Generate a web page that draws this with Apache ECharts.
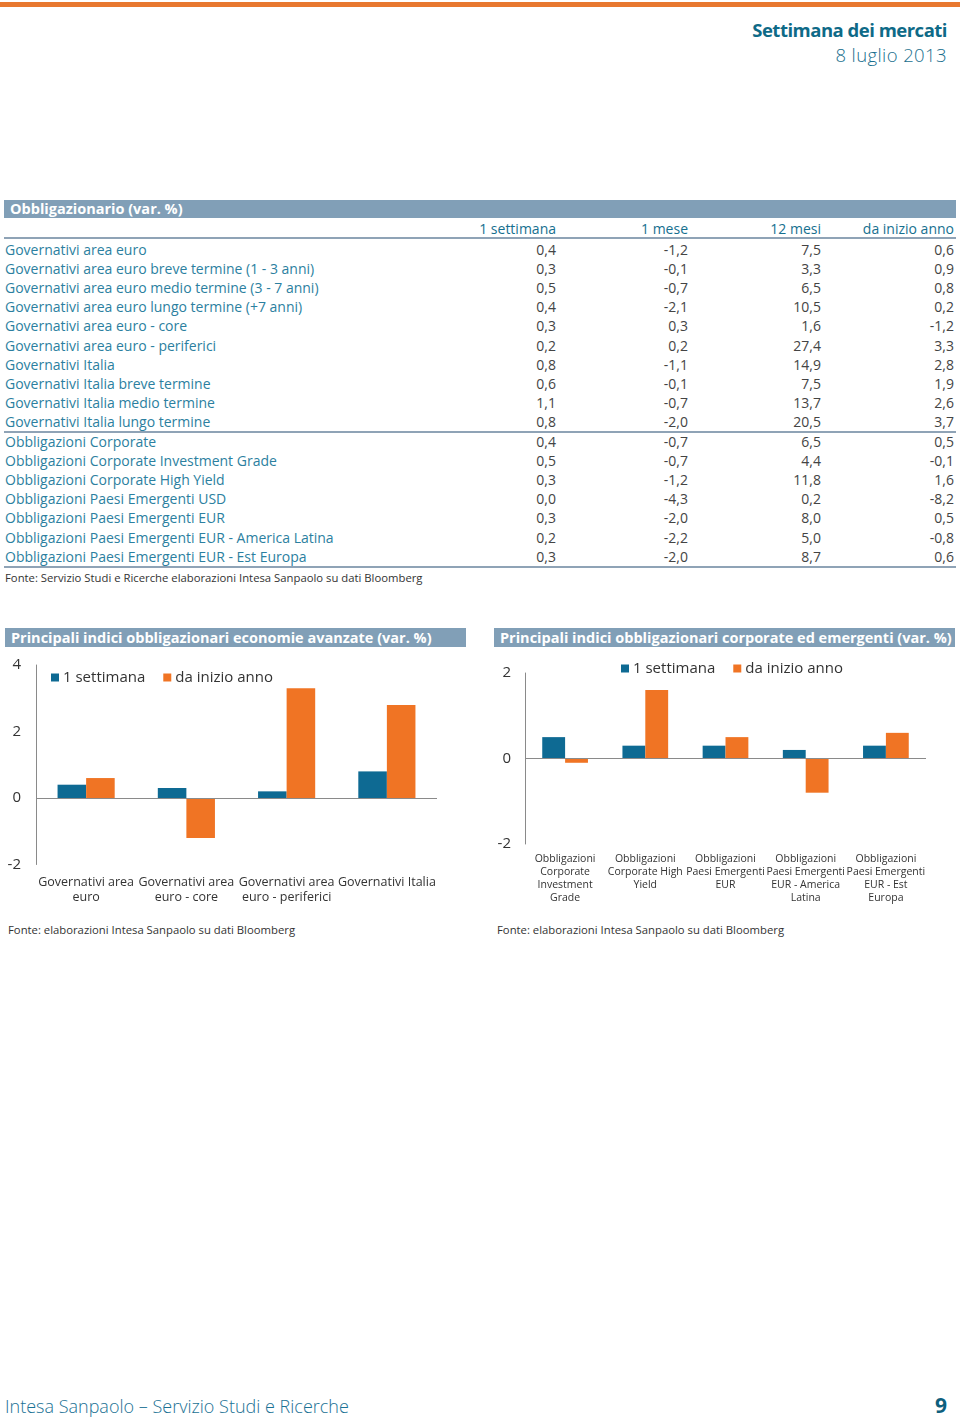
<!DOCTYPE html>
<html>
<head>
<meta charset="utf-8">
<script src="https://cdn.jsdelivr.net/npm/echarts@6/dist/echarts.min.js"></script>
<style>
html,body{margin:0;padding:0;background:#fff;}
body{width:960px;height:1421px;position:relative;overflow:hidden;font-family:"Open Sans",sans-serif;}
.abs{position:absolute;white-space:nowrap;}
.bar{position:absolute;background:#819fb7;color:#fff;font-weight:bold;font-size:14.5px;line-height:19px;padding-left:6px;box-sizing:border-box;}
.row{position:absolute;left:0;width:960px;height:19px;font-size:14px;line-height:19px;}
.lbl{position:absolute;left:5px;color:#2c7fa0;white-space:nowrap;}
.num{position:absolute;color:#444;text-align:right;width:100px;}
.hdr{position:absolute;color:#16708f;text-align:right;width:140px;font-size:14px;line-height:19px;}
.rule{position:absolute;left:4px;width:952px;height:2px;background:#8fa3b6;}
.src{position:absolute;font-size:11.3px;line-height:16px;color:#333;white-space:nowrap;}
</style>
</head>
<body>
<div class="abs" style="left:0;top:2px;width:960px;height:5px;background:#e8782f;"></div>
<div class="abs" style="right:13px;top:20px;font-size:18.5px;line-height:20px;font-weight:bold;color:#0e6a87;letter-spacing:-0.5px;">Settimana dei mercati</div>
<div class="abs" style="right:13px;top:45px;font-size:18.5px;line-height:19px;color:#1a6f8e;letter-spacing:0.4px;font-weight:300;">8 luglio 2013</div>

<div class="bar" style="left:4px;top:200px;width:952px;height:18px;line-height:18px;">Obbligazionario (var. %)</div>
<div id="table"></div>
<div class="src" style="left:5px;top:570px;">Fonte: Servizio Studi e Ricerche elaborazioni Intesa Sanpaolo su dati Bloomberg</div>

<div class="bar" style="left:5px;top:628px;width:461px;">Principali indici obbligazionari economie avanzate (var. %)</div>
<div class="bar" style="left:494px;top:628px;width:461px;">Principali indici obbligazionari corporate ed emergenti (var. %)</div>
<div id="chart" style="position:absolute;left:0;top:650px;width:960px;height:265px;"></div>
<div class="src" style="left:8px;top:922px;">Fonte: elaborazioni Intesa Sanpaolo su dati Bloomberg</div>
<div class="src" style="left:497px;top:922px;">Fonte: elaborazioni Intesa Sanpaolo su dati Bloomberg</div>

<div class="abs" style="left:5px;top:1394px;font-size:18px;line-height:24px;color:#1a7194;font-weight:300;">Intesa Sanpaolo – Servizio Studi e Ricerche</div>
<div class="abs" style="left:935px;top:1392px;font-size:21px;line-height:26px;font-weight:bold;color:#0e5f7d;">9</div>

<script>
// ---- Table data ----
var tableColumns = ['1 settimana', '1 mese', '12 mesi', 'da inizio anno'];
var tableRows1 = [
  'Governativi area euro',
  'Governativi area euro breve termine (1 - 3 anni)',
  'Governativi area euro medio termine (3 - 7 anni)',
  'Governativi area euro lungo termine (+7 anni)',
  'Governativi area euro - core',
  'Governativi area euro - periferici',
  'Governativi Italia',
  'Governativi Italia breve termine',
  'Governativi Italia medio termine',
  'Governativi Italia lungo termine'
];
var tableRows2 = [
  'Obbligazioni Corporate',
  'Obbligazioni Corporate Investment Grade',
  'Obbligazioni Corporate High Yield',
  'Obbligazioni Paesi Emergenti USD',
  'Obbligazioni Paesi Emergenti EUR',
  'Obbligazioni Paesi Emergenti EUR - America Latina',
  'Obbligazioni Paesi Emergenti EUR - Est Europa'
];
var colSettimana = [0.4,0.3,0.5,0.4,0.3,0.2,0.8,0.6,1.1,0.8, 0.4,0.5,0.3,0.0,0.3,0.2,0.3];
var colMese      = [-1.2,-0.1,-0.7,-2.1,0.3,0.2,-1.1,-0.1,-0.7,-2.0, -0.7,-0.7,-1.2,-4.3,-2.0,-2.2,-2.0];
var col12Mesi    = [7.5,3.3,6.5,10.5,1.6,27.4,14.9,7.5,13.7,20.5, 6.5,4.4,11.8,0.2,8.0,5.0,8.7];
var colInizio    = [0.6,0.9,0.8,0.2,-1.2,3.3,2.8,1.9,2.6,3.7, 0.5,-0.1,1.6,-8.2,0.5,-0.8,0.6];

// ---- Chart data ----
var cats1 = ['Governativi area euro','Governativi area euro - core','Governativi area euro - periferici','Governativi Italia'];
var cats1Labels = ['Governativi area\neuro','Governativi area\neuro - core','Governativi area\neuro - periferici','Governativi Italia'];
var sett1 = [0.4, 0.3, 0.2, 0.8];
var ytd1  = [0.6, -1.2, 3.3, 2.8];
var cats2 = ['Obbligazioni Corporate Investment Grade','Obbligazioni Corporate High Yield','Obbligazioni Paesi Emergenti EUR','Obbligazioni Paesi Emergenti EUR - America Latina','Obbligazioni Paesi Emergenti EUR - Est Europa'];
var cats2Labels = ['Obbligazioni\nCorporate\nInvestment\nGrade','Obbligazioni\nCorporate High\nYield','Obbligazioni\nPaesi Emergenti\nEUR','Obbligazioni\nPaesi Emergenti\nEUR - America\nLatina','Obbligazioni\nPaesi Emergenti\nEUR - Est\nEuropa'];
var sett2 = [0.5, 0.3, 0.3, 0.2, 0.3];
var ytd2  = [-0.1, 1.6, 0.5, -0.8, 0.6];
var seriesNames = ['1 settimana', 'da inizio anno'];

// ---- Build table ----
function fmt(v){ return v.toFixed(1).replace('.', ','); }
var colRight = [556, 688, 821, 954];
var t = document.getElementById('table');
var html = '';
colRight.forEach(function(r,i){
  html += '<div class="hdr" style="left:'+(r-140)+'px;top:219px;">'+tableColumns[i]+'</div>';
});
html += '<div class="rule" style="top:237px;"></div>';
function addRow(label, idx, top){
  var s = '<div class="row" style="top:'+top+'px;"><div class="lbl">'+label+'</div>';
  var vals = [colSettimana[idx], colMese[idx], col12Mesi[idx], colInizio[idx]];
  vals.forEach(function(v,i){
    s += '<div class="num" style="left:'+(colRight[i]-100)+'px;">'+fmt(v)+'</div>';
  });
  return s + '</div>';
}
tableRows1.forEach(function(l,i){ html += addRow(l, i, 240 + i*19.1); });
html += '<div class="rule" style="top:431px;"></div>';
tableRows2.forEach(function(l,i){ html += addRow(l, tableRows1.length + i, 432 + i*19.1); });
html += '<div class="rule" style="top:566px;"></div>';
t.innerHTML = html;

// ---- Charts ----
var BLUE = '#0e6a93', ORANGE = '#f07424';
var chart = echarts.init(document.getElementById('chart'));
function zeroLine(){
  return {silent:true, symbol:'none', label:{show:false}, lineStyle:{color:'#8a8a8a', width:1, type:'solid'}, data:[{yAxis:0}]};
}
chart.setOption({
  animation:false,
  textStyle:{fontFamily:'"Open Sans", sans-serif'},
  legend:[
    {left:46, top:15, itemWidth:8, itemHeight:8, itemGap:18, icon:'rect', data:seriesNames,
     textStyle:{fontSize:15, color:'#333', padding:[0,0,0,-1]}},
    {left:616, top:6, itemWidth:8, itemHeight:8, itemGap:18, icon:'rect', data:seriesNames,
     textStyle:{fontSize:15, color:'#333', padding:[0,0,0,-1]}}
  ],
  grid:[
    {left:36, top:15, width:401, height:199.5},
    {left:525, top:23, width:401, height:171}
  ],
  xAxis:[
    {type:'category', gridIndex:0, data:cats1, axisLine:{show:false, onZero:false}, axisTick:{show:false},
     axisLabel:{margin:10, fontSize:12.5, lineHeight:15, color:'#333', interval:0,
       formatter:function(v,i){return cats1Labels[i];}}},
    {type:'category', gridIndex:1, data:cats2, axisLine:{show:false, onZero:false}, axisTick:{show:false},
     axisLabel:{margin:9, fontSize:10.5, lineHeight:13, color:'#333', interval:0,
       formatter:function(v,i){return cats2Labels[i];}}}
  ],
  yAxis:[
    {type:'value', gridIndex:0, min:-2, max:4, interval:2, splitLine:{show:false},
     axisLine:{show:true, lineStyle:{color:'#8a8a8a'}}, axisTick:{show:false},
     axisLabel:{margin:15, fontSize:15, color:'#333'}},
    {type:'value', gridIndex:1, min:-2, max:2, interval:2, splitLine:{show:false},
     axisLine:{show:true, lineStyle:{color:'#8a8a8a'}}, axisTick:{show:false},
     axisLabel:{margin:14, fontSize:15, color:'#333'}}
  ],
  series:[
    {name:seriesNames[0], type:'bar', xAxisIndex:0, yAxisIndex:0, data:sett1, itemStyle:{color:BLUE}, barGap:'0%', barCategoryGap:'43%', markLine:zeroLine()},
    {name:seriesNames[1], type:'bar', xAxisIndex:0, yAxisIndex:0, data:ytd1, itemStyle:{color:ORANGE}, barGap:'0%', barCategoryGap:'43%'},
    {name:seriesNames[0], type:'bar', xAxisIndex:1, yAxisIndex:1, data:sett2, itemStyle:{color:BLUE}, barGap:'0%', barCategoryGap:'43%', markLine:zeroLine()},
    {name:seriesNames[1], type:'bar', xAxisIndex:1, yAxisIndex:1, data:ytd2, itemStyle:{color:ORANGE}, barGap:'0%', barCategoryGap:'43%'}
  ]
});
</script>
</body>
</html>
